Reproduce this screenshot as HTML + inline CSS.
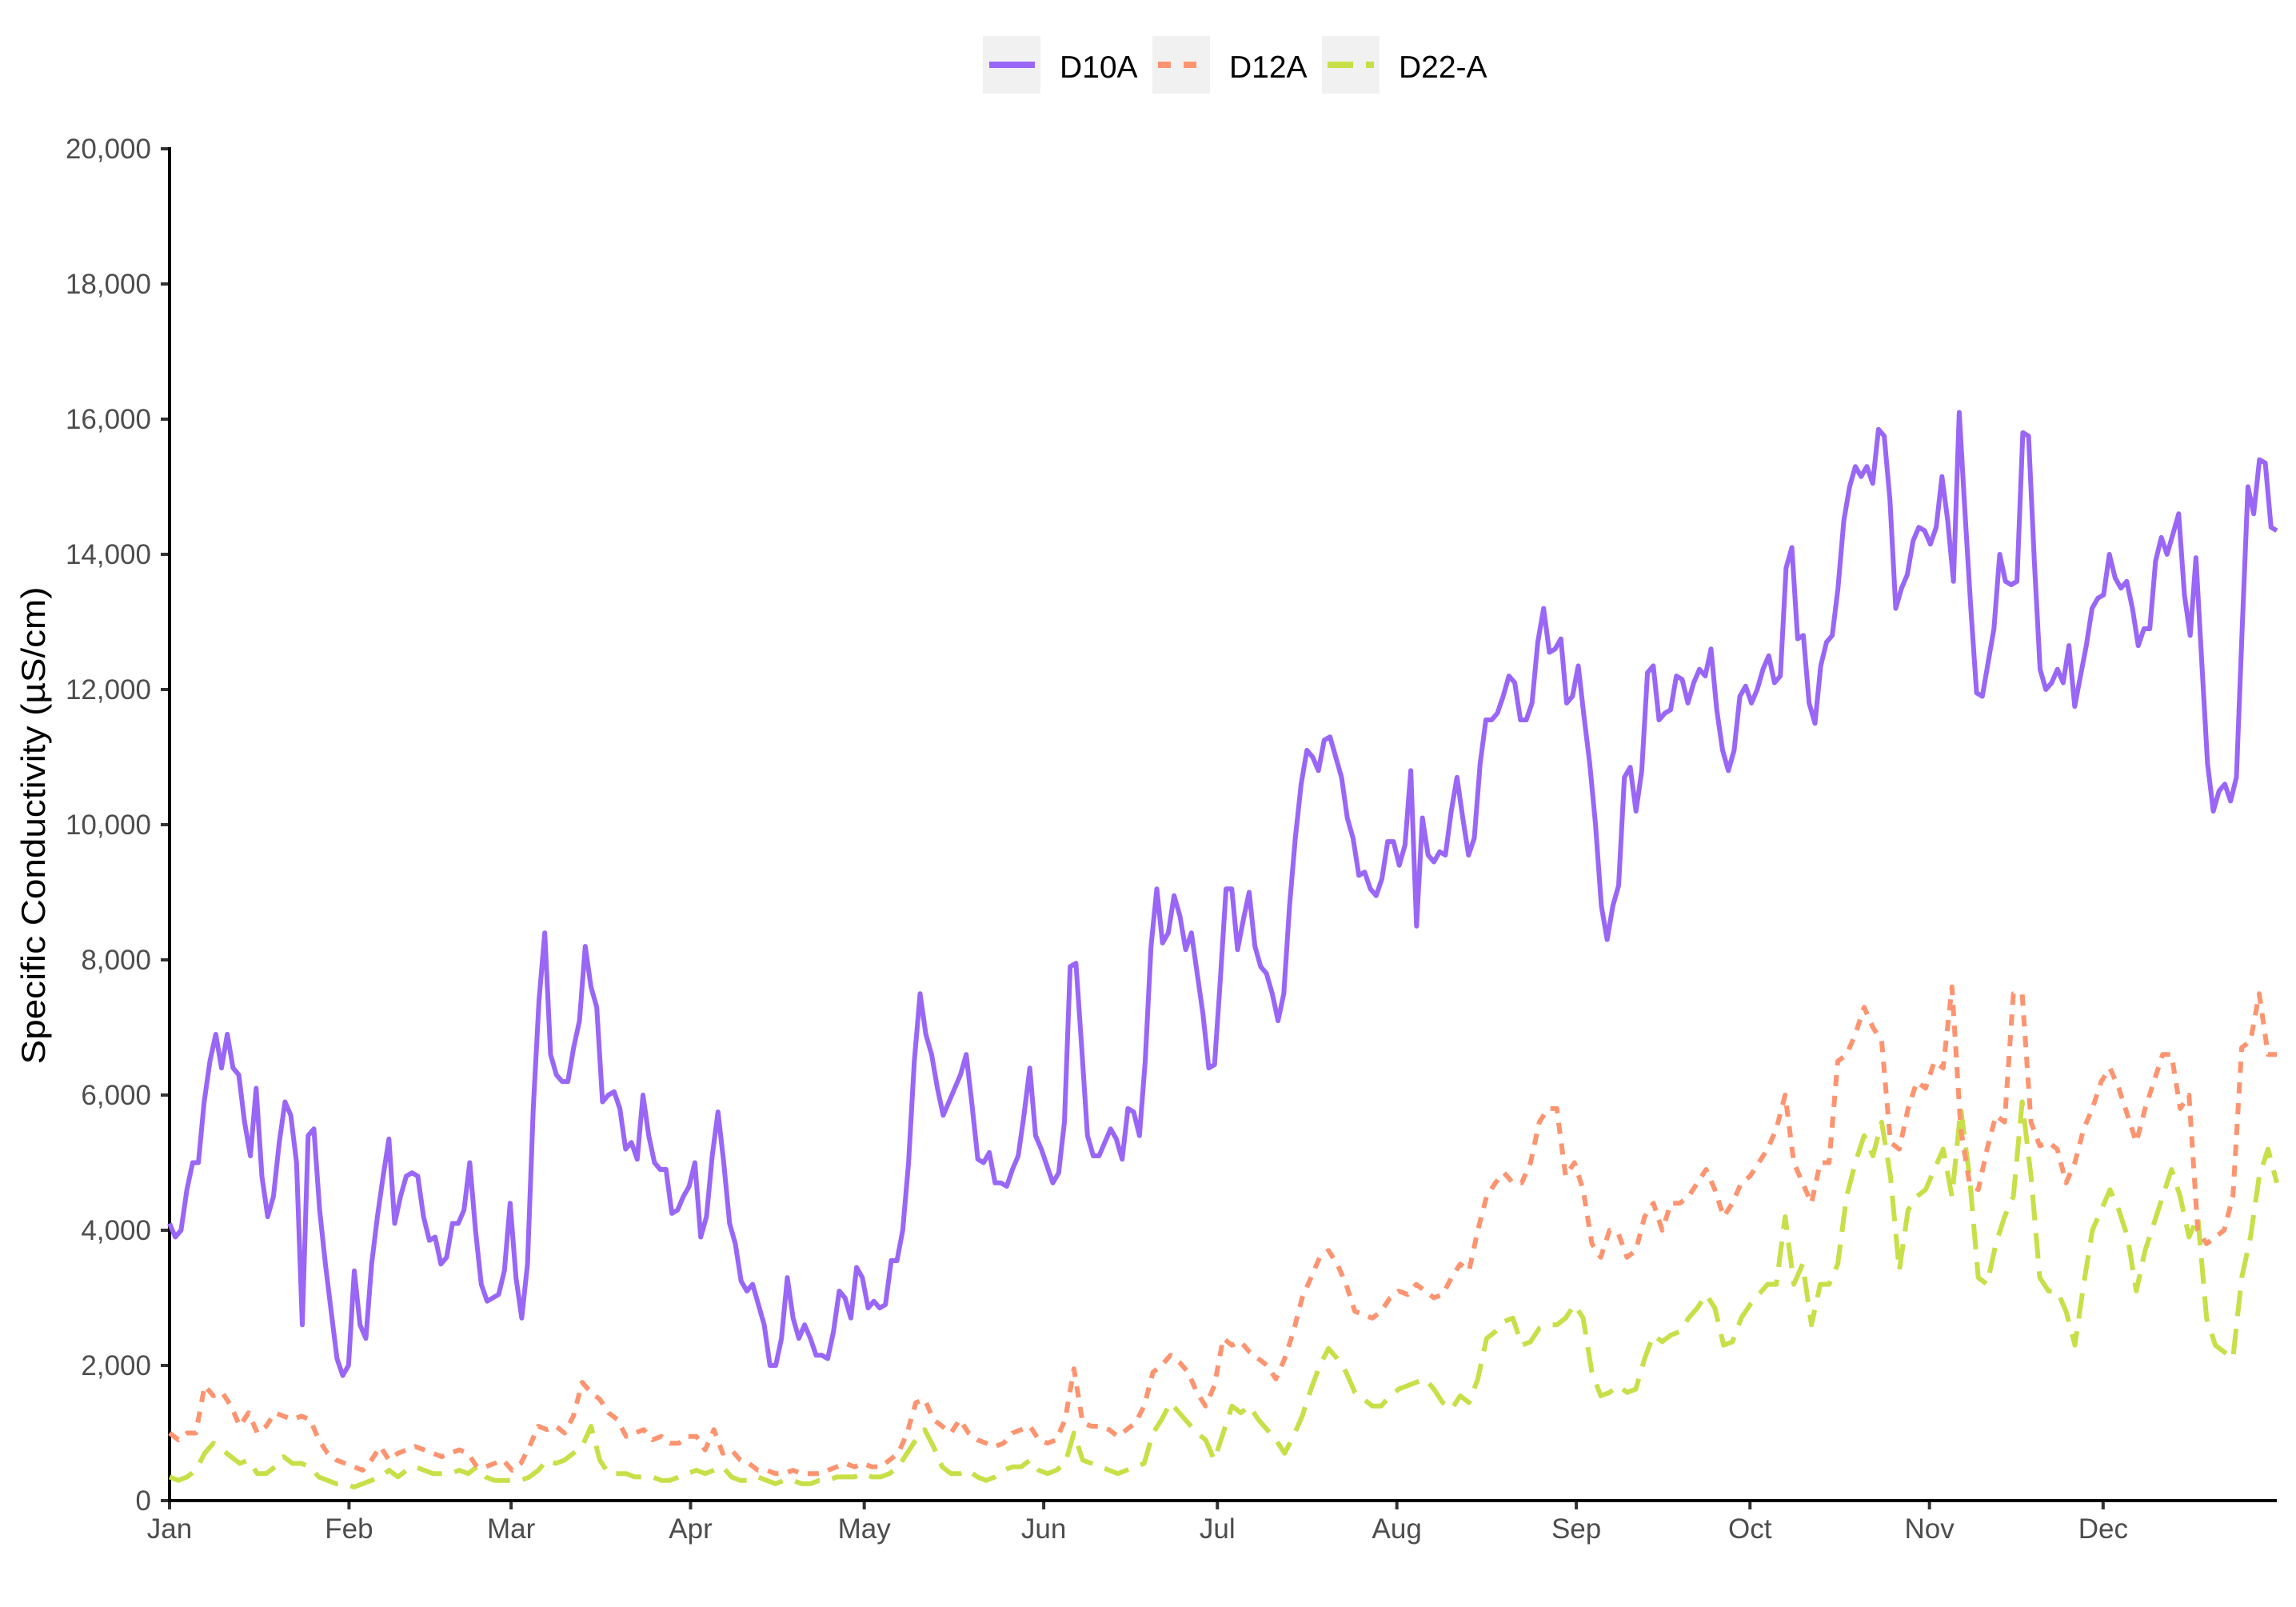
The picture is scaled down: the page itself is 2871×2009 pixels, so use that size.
<!DOCTYPE html>
<html><head><meta charset="utf-8"><title>Specific Conductivity</title>
<style>html,body{margin:0;padding:0;background:#fff}svg{display:block}</style></head>
<body>
<svg id="chart" width="2871" height="2009" viewBox="0 0 2871 2009" xmlns="http://www.w3.org/2000/svg" font-family="Liberation Sans, Arial, sans-serif">
<rect width="2871" height="2009" fill="#fff"/>
<g id="legend">
 <g>
  <rect x="1229" y="45" width="72" height="72" fill="#f1f1f1"/>
  <line x1="1237" y1="81" x2="1294" y2="81" stroke="#9966f6" stroke-width="8"/>
  <text x="1325" y="97" font-size="39" fill="#000">D10A</text>
 </g>
 <g>
  <rect x="1441" y="45" width="72" height="72" fill="#f1f1f1"/>
  <line x1="1448" y1="81" x2="1506" y2="81" stroke="#fc9470" stroke-width="8" stroke-dasharray="16 16"/>
  <text x="1537" y="97" font-size="39" fill="#000">D12A</text>
 </g>
 <g>
  <rect x="1653" y="45" width="72" height="72" fill="#f1f1f1"/>
  <line x1="1660" y1="81" x2="1718" y2="81" stroke="#c8df48" stroke-width="8" stroke-dasharray="32 16"/>
  <text x="1749" y="97" font-size="39" fill="#000">D22-A</text>
 </g>
</g>
<text transform="translate(56,1032) rotate(-90)" text-anchor="middle" font-size="42" fill="#000" textLength="597" lengthAdjust="spacingAndGlyphs">Specific Conductivity (µS/cm)</text>
<g id="axes"></g>
<g id="series"></g>
</svg>
<script>
const monthLabels = ["Jan","Feb","Mar","Apr","May","Jun","Jul","Aug","Sep","Oct","Nov","Dec"];
const monthStartDays = [0,31,59,90,120,151,181,212,243,273,304,334];
const yTicks = [0,2000,4000,6000,8000,10000,12000,14000,16000,18000,20000];
const yTickLabels = ["0","2,000","4,000","6,000","8,000","10,000","12,000","14,000","16,000","18,000","20,000"];
const d10a = [4100,3900,4000,4600,5000,5000,5900,6500,6900,6400,6900,6400,6300,5600,5100,6100,4800,4200,4500,5300,5900,5700,5000,2600,5400,5500,4300,3500,2800,2100,1850,2000,3400,2600,2400,3500,4200,4800,5350,4100,4500,4800,4850,4800,4200,3850,3900,3500,3600,4100,4100,4300,5000,4000,3200,2950,3000,3050,3400,4400,3300,2700,3500,5800,7400,8400,6600,6300,6200,6200,6700,7100,8200,7600,7300,5900,6000,6050,5800,5200,5300,5050,6000,5400,5000,4900,4900,4250,4300,4500,4650,5000,3900,4200,5100,5750,5000,4100,3800,3250,3100,3200,2900,2600,2000,2000,2400,3300,2700,2400,2600,2400,2150,2150,2100,2500,3100,3000,2700,3450,3300,2850,2950,2850,2900,3550,3550,4000,5000,6500,7500,6900,6600,6100,5700,5900,6100,6300,6600,5850,5050,5000,5150,4700,4700,4650,4900,5100,5700,6400,5400,5200,4950,4700,4850,5600,7900,7950,6700,5400,5100,5100,5300,5500,5350,5050,5800,5750,5400,6500,8200,9050,8250,8400,8950,8650,8150,8400,7800,7200,6400,6450,7700,9050,9050,8150,8600,9000,8200,7900,7800,7500,7100,7500,8800,9800,10600,11100,11000,10800,11250,11300,11000,10700,10100,9800,9250,9300,9050,8950,9200,9750,9750,9400,9700,10800,8500,10100,9550,9450,9600,9550,10200,10700,10100,9550,9800,10900,11550,11550,11650,11900,12200,12100,11550,11550,11800,12700,13200,12550,12600,12750,11800,11900,12350,11600,10900,10000,8800,8300,8800,9100,10700,10850,10200,10800,12250,12350,11550,11650,11700,12200,12150,11800,12100,12300,12200,12600,11700,11100,10800,11100,11900,12050,11800,12000,12300,12500,12100,12200,13800,14100,12750,12800,11800,11500,12350,12700,12800,13500,14500,15000,15300,15150,15300,15050,15850,15750,14800,13200,13500,13700,14200,14400,14350,14150,14400,15150,14500,13600,16100,14600,13200,11950,11900,12400,12900,14000,13600,13550,13600,15800,15750,13900,12300,12000,12100,12300,12100,12650,11750,12200,12650,13200,13350,13400,14000,13650,13500,13600,13200,12650,12900,12900,13900,14250,14000,14300,14600,13400,12800,13950,12400,10900,10200,10500,10600,10350,10700,12900,15000,14600,15400,15350,14400,14350];
const d12a = [1000,900,1000,1000,1700,1550,1600,1400,1100,1300,1000,1100,1300,1250,1200,1250,1200,900,700,600,550,500,450,600,800,600,700,750,800,750,700,650,700,750,700,500,500,550,600,450,550,800,1100,1050,1100,1000,1250,1750,1600,1500,1300,1200,950,1000,1050,900,950,850,850,950,950,750,1050,700,750,600,550,450,450,400,400,450,400,400,400,450,500,550,500,550,500,500,600,700,1000,1450,1500,1200,1100,1000,1200,1000,900,850,800,850,1000,1050,1100,900,850,900,1200,1950,1150,1100,1100,1050,950,1050,1150,1400,1900,2000,2150,2050,1900,1600,1400,1700,2400,2300,2350,2200,2100,2000,1800,2100,2500,3000,3300,3600,3700,3500,3200,2800,2750,2700,2800,3000,3100,3050,3200,3100,3000,3050,3300,3500,3400,4000,4500,4700,4850,4700,4700,5000,5600,5800,5800,4800,5000,4600,3800,3600,4000,3950,3600,3700,4200,4400,4000,4400,4400,4500,4700,4900,4600,4200,4400,4700,4800,5000,5200,5500,6000,5000,4700,4400,5000,5000,6500,6600,6900,7300,7000,6800,5300,5200,5800,6200,6100,6500,6400,7600,5500,4700,4600,5200,5700,5600,7500,7500,5600,5250,5300,5200,4700,5000,5500,5800,6200,6400,6100,5700,5300,5800,6200,6600,6600,5800,6000,4000,3800,3900,4000,4500,6700,6800,7500,6600,6600];
const d22a = [350,300,350,450,700,850,750,650,550,600,400,400,500,650,550,550,500,350,300,250,250,200,250,300,350,450,350,450,500,450,400,400,400,450,400,500,350,300,300,300,300,350,450,600,550,600,700,800,1100,600,400,400,400,350,350,350,300,300,350,400,450,400,450,500,350,300,300,350,300,250,300,300,250,250,300,300,350,350,350,400,350,350,400,500,700,900,1050,800,500,400,400,450,350,300,350,450,500,500,600,450,400,450,550,1000,600,550,500,450,400,450,500,550,1000,1200,1450,1300,1150,1000,900,600,1000,1400,1300,1400,1200,1050,900,700,950,1250,1650,2000,2250,2100,1900,1600,1500,1400,1400,1550,1650,1700,1750,1800,1650,1450,1350,1550,1450,1800,2400,2500,2650,2700,2300,2350,2550,2600,2600,2700,2900,2700,1900,1550,1600,1700,1600,1650,2100,2450,2350,2450,2500,2700,2850,3050,2850,2300,2350,2700,2900,3050,3200,3200,4200,3200,3500,2600,3200,3200,3500,4500,5000,5400,5100,5600,4800,3400,4300,4500,4600,4900,5200,4500,5800,4800,3300,3200,3800,4200,4500,5900,4800,3300,3100,3100,2800,2300,3200,4000,4300,4600,4300,3900,3100,3700,4100,4500,4900,4500,3900,4200,2700,2300,2200,2100,3300,3900,4800,5200,4700];

const NS = "http://www.w3.org/2000/svg";
const X0 = 212, X1 = 2847, Y0 = 1876, Y1 = 186, DAYS = 364, YMAX = 20000;
function xScale(day){ return X0 + day/DAYS*(X1-X0); }
function yScale(v){ return Y0 - v/YMAX*(Y0-Y1); }
function mk(tag, attrs, parent){ const e = document.createElementNS(NS, tag); for (const k in attrs) e.setAttribute(k, attrs[k]); parent.appendChild(e); return e; }

const axes = document.getElementById('axes');
yTicks.forEach((v,i)=>{
  const y = yScale(v);
  const t = mk('line',{x1:201,x2:212,y1:y,y2:y,stroke:'#333','stroke-width':4},axes);
  
  
  const l = mk('text',{x:189,y:y+12,'text-anchor':'end','font-size':35,fill:'#4d4d4d'},axes);
  l.textContent = yTickLabels[i];
  
  
});
monthStartDays.forEach((d,i)=>{
  const x = xScale(d);
  const t = mk('line',{x1:x,x2:x,y1:1876,y2:1887,stroke:'#333','stroke-width':4},axes);
  
  
  const l = mk('text',{x:x,y:1923,'text-anchor':'middle','font-size':35,fill:'#4d4d4d'},axes);
  l.textContent = monthLabels[i];
  
  
});
const ya = mk('line',{x1:X0,x2:X0,y1:Y1-2,y2:Y0+2,stroke:'#000','stroke-width':4},axes);


const xa = mk('line',{x1:X0-2,x2:X1,y1:Y0,y2:Y0,stroke:'#000','stroke-width':4},axes);



const series = document.getElementById('series');
function drawLine(vals, color, dash, name){
  const n = vals.length;
  const pts = vals.map((v,i)=> xScale(i*DAYS/(n-1)).toFixed(1)+','+yScale(v).toFixed(1)).join(' ');
  const p = mk('polyline',{points:pts,fill:'none',stroke:color,'stroke-width':6,'stroke-linejoin':'round'},series);
  if (dash) p.setAttribute('stroke-dasharray', dash);
  
  
}
drawLine(d22a, '#c8df48', '32 16', 'series-d22a');
drawLine(d12a, '#fc9470', '14 12', 'series-d12a');
drawLine(d10a, '#9966f6', null, 'series-d10a');
</script>
</body></html>
